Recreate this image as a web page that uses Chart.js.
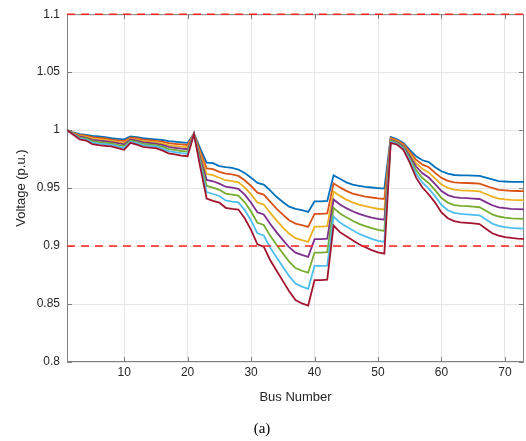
<!DOCTYPE html>
<html>
<head>
<meta charset="utf-8">
<script src="https://cdn.jsdelivr.net/npm/chart.js@4/dist/chart.umd.min.js"></script>
<style>
  html, body { margin: 0; padding: 0; background: #fff; }
  #wrap { width: 526px; height: 441px; }
</style>
</head>
<body>
<div id="wrap"><canvas id="voltCanvas" width="526" height="441"></canvas></div>
<script>
// bus voltage profiles, one line per loading case
var busNo = Array.from({ length: 73 }, function (_, i) { return i + 1; });
var xTicks = [10, 20, 30, 40, 50, 60, 70];
var limitLow = 0.9;
var limitHigh = 1.1;

var caseA = [1.000,0.998,0.9965,0.996,0.995,0.9945,0.994,0.993,0.9925,0.992,
  0.9945,0.994,0.993,0.9925,0.992,0.9915,0.9905,0.990,0.9895,0.989,
  0.997,0.984,0.972,0.9715,0.969,0.968,0.9675,0.966,0.963,0.959,
  0.9545,0.953,0.948,0.9425,0.938,0.934,0.932,0.931,0.9295,0.9385,
  0.9385,0.939,0.961,0.958,0.955,0.953,0.952,0.951,0.9505,0.950,
  0.9496,0.994,0.992,0.989,0.983,0.9775,0.974,0.9725,0.968,0.9645,
  0.9625,0.9613,0.961,0.961,0.9608,0.9605,0.959,0.9575,0.956,0.9557,
  0.9553,0.9553,0.9553];
var caseB = [1.000,0.9977,0.9958,0.9952,0.9939,0.9933,0.9928,0.9919,0.9912,0.9906,
  0.9936,0.9930,0.9918,0.9913,0.9908,0.9901,0.9888,0.9882,0.9877,0.9872,
  0.9969,0.9814,0.9670,0.9663,0.9640,0.9624,0.9618,0.9605,0.9568,0.9518,
  0.9460,0.9444,0.9384,0.9323,0.9271,0.9223,0.9194,0.9181,0.9166,0.9277,
  0.9277,0.9281,0.9541,0.9506,0.9476,0.9453,0.9439,0.9427,0.9419,0.9411,
  0.9406,0.9932,0.9913,0.9880,0.9812,0.9745,0.9702,0.9680,0.9631,0.9588,
  0.9563,0.9549,0.9545,0.9544,0.9542,0.9539,0.9520,0.9501,0.9485,0.9480,
  0.9476,0.9475,0.9474];
var caseC = [1.000,0.9974,0.9951,0.9944,0.9928,0.9921,0.9916,0.9908,0.9899,0.9891,
  0.9927,0.9919,0.9906,0.9901,0.9896,0.9886,0.9871,0.9865,0.9858,0.9853,
  0.9968,0.9789,0.9621,0.9611,0.9589,0.9568,0.9561,0.9550,0.9505,0.9446,
  0.9375,0.9359,0.9288,0.9222,0.9162,0.9106,0.9069,0.9052,0.9036,0.9168,
  0.9168,0.9172,0.9471,0.9433,0.9401,0.9376,0.9358,0.9344,0.9332,0.9322,
  0.9316,0.9924,0.9906,0.9871,0.9795,0.9716,0.9665,0.9635,0.9582,0.9531,
  0.9502,0.9486,0.9480,0.9479,0.9476,0.9472,0.9449,0.9426,0.9410,0.9403,
  0.9398,0.9397,0.9396];
var caseD = [1.000,0.9970,0.9943,0.9936,0.9916,0.9909,0.9904,0.9896,0.9887,0.9877,
  0.9919,0.9909,0.9894,0.9889,0.9884,0.9872,0.9855,0.9847,0.9840,0.9835,
  0.9968,0.9763,0.9571,0.9559,0.9539,0.9512,0.9505,0.9494,0.9443,0.9374,
  0.9291,0.9273,0.9192,0.9120,0.9054,0.8990,0.8943,0.8924,0.8907,0.9060,
  0.9060,0.9064,0.9402,0.9359,0.9327,0.9300,0.9278,0.9260,0.9246,0.9234,
  0.9227,0.9916,0.9898,0.9861,0.9777,0.9686,0.9627,0.9591,0.9534,0.9475,
  0.9440,0.9422,0.9416,0.9413,0.9410,0.9406,0.9379,0.9352,0.9334,0.9327,
  0.9321,0.9319,0.9317];
var caseE = [1.000,0.9967,0.9936,0.9928,0.9905,0.9896,0.9891,0.9885,0.9873,0.9862,
  0.9909,0.9898,0.9881,0.9876,0.9871,0.9857,0.9837,0.9829,0.9820,0.9815,
  0.9967,0.9736,0.9519,0.9504,0.9485,0.9453,0.9444,0.9436,0.9377,0.9298,
  0.9201,0.9182,0.9090,0.9012,0.8938,0.8866,0.8810,0.8787,0.8770,0.8944,
  0.8944,0.8948,0.9329,0.9281,0.9248,0.9218,0.9192,0.9172,0.9154,0.9139,
  0.9131,0.9908,0.9891,0.9851,0.9759,0.9655,0.9587,0.9543,0.9482,0.9414,
  0.9375,0.9354,0.9347,0.9344,0.9340,0.9335,0.9304,0.9273,0.9255,0.9245,
  0.9239,0.9236,0.9234];
var caseF = [1.000,0.9964,0.9928,0.9919,0.9893,0.9884,0.9879,0.9873,0.9859,0.9846,
  0.9900,0.9887,0.9869,0.9864,0.9859,0.9841,0.9819,0.9810,0.9801,0.9796,
  0.9966,0.9709,0.9466,0.9449,0.9432,0.9393,0.9384,0.9377,0.9310,0.9221,
  0.9110,0.9091,0.8988,0.8904,0.8822,0.8741,0.8676,0.8650,0.8632,0.8829,
  0.8829,0.8832,0.9255,0.9203,0.9169,0.9136,0.9106,0.9084,0.9062,0.9045,
  0.9036,0.9899,0.9883,0.9841,0.9740,0.9623,0.9547,0.9495,0.9430,0.9354,
  0.9309,0.9287,0.9278,0.9274,0.9269,0.9265,0.9229,0.9194,0.9175,0.9163,
  0.9157,0.9153,0.9150];
var caseG = [1.000,0.996,0.992,0.991,0.988,0.987,0.9865,0.986,0.9845,0.983,
  0.989,0.9875,0.9855,0.985,0.9845,0.9825,0.980,0.979,0.978,0.9775,
  0.9965,0.968,0.941,0.939,0.9375,0.933,0.932,0.9315,0.924,0.914,
  0.9015,0.8995,0.888,0.879,0.870,0.861,0.8535,0.8505,0.8487,0.8707,
  0.8707,0.871,0.9177,0.912,0.9085,0.905,0.9015,0.899,0.8965,0.8945,
  0.8935,0.989,0.9875,0.983,0.972,0.959,0.9505,0.9445,0.9375,0.929,
  0.924,0.9215,0.9205,0.920,0.9195,0.919,0.915,0.911,0.909,0.9077,
  0.907,0.9065,0.9062];

var cases = [caseA, caseB, caseC, caseD, caseE, caseF, caseG];
var colors = ['#0072BD', '#D95319', '#EDB120', '#7E2F8E', '#77AC30', '#4DBEEE', '#A2142F'];

function toXY(vals) {
    return vals.map(function (v, i) { return { x: busNo[i], y: v }; });
}

var datasets = [];
for (var i in cases) {
    datasets.push({
        data: toXY(cases[i]),
        borderColor: colors[i],
        borderWidth: 1.8,
        pointRadius: 0,
        tension: 0,
        fill: false,
        order: 6 - i
    });
}
// voltage limits
[limitLow, limitHigh].forEach(function (lim) {
    datasets.push({
        data: [{ x: busNo[0], y: lim }, { x: busNo[busNo.length - 1], y: lim }],
        borderColor: '#ff2020',
        borderWidth: 1.5,
        borderDash: [8, 6],
        pointRadius: 0,
        fill: false,
        clip: 4,
        order: -1
    });
});

// box around the axes plus inward ticks, like a matlab figure
var boxTicks = {
    id: 'boxTicks',
    beforeDatasetsDraw: function (chart) {
        var ctx = chart.ctx, a = chart.chartArea;
        var xs = chart.scales.x, ys = chart.scales.y;
        ctx.save();
        ctx.strokeStyle = '#808080';
        ctx.lineWidth = 1;
        ctx.beginPath();
        ctx.rect(a.left + 0.5, a.top + 0.5, a.right - a.left - 1, a.bottom - a.top - 1);
        ctx.stroke();
        ctx.beginPath();
        xs.ticks.forEach(function (t) {
            var px = Math.round(xs.getPixelForValue(t.value)) + 0.5;
            ctx.moveTo(px, a.bottom); ctx.lineTo(px, a.bottom - 5);
            ctx.moveTo(px, a.top); ctx.lineTo(px, a.top + 5);
        });
        ys.ticks.forEach(function (t) {
            var py = Math.round(ys.getPixelForValue(t.value)) + 0.5;
            ctx.moveTo(a.left, py); ctx.lineTo(a.left + 5, py);
            ctx.moveTo(a.right, py); ctx.lineTo(a.right - 5, py);
        });
        ctx.stroke();
        ctx.restore();
    }
};

var tickFont = { family: 'Liberation Sans, Arial, sans-serif', size: 12 };

var ctx = document.getElementById('voltCanvas');
var voltChart = new Chart(ctx, {
    type: 'line',
    data: { datasets: datasets },
    options: {
        responsive: false,
        animation: false,
        layout: { padding: { left: 0, right: 2, top: 10, bottom: 0 } },
        plugins: {
            legend: { display: false },
            tooltip: { enabled: false },
            title: {
                display: true,
                text: '(a)',
                position: 'bottom',
                color: '#000',
                font: { family: 'Liberation Serif, Times New Roman, serif', size: 15, weight: 'normal' },
                padding: { top: 15, bottom: 3 }
            }
        },
        scales: {
            x: {
                type: 'linear',
                min: 1,
                max: 73,
                afterBuildTicks: function (axis) {
                    axis.ticks = xTicks.map(function (v) { return { value: v }; });
                },
                afterFit: function (axis) { axis.height = 43; },
                grid: { color: '#e6e6e6', drawTicks: false },
                border: { display: false },
                ticks: { color: '#262626', font: tickFont, padding: 3, maxRotation: 0 },
                title: {
                    display: true,
                    text: 'Bus Number',
                    color: '#262626',
                    font: { family: 'Liberation Sans, Arial, sans-serif', size: 13 },
                    padding: { top: 0, bottom: 0 }
                }
            },
            y: {
                min: 0.8,
                max: 1.1,
                ticks: {
                    stepSize: 0.05,
                    color: '#262626',
                    font: tickFont,
                    padding: 7,
                    callback: function (v) { return String(Number(v.toFixed(2))); }
                },
                afterFit: function (axis) { axis.width = 67; },
                grid: { color: '#e6e6e6', drawTicks: false },
                border: { display: false },
                title: {
                    display: true,
                    text: 'Voltage (p.u.)',
                    color: '#262626',
                    font: { family: 'Liberation Sans, Arial, sans-serif', size: 13 },
                    padding: { top: 14, bottom: 0 }
                }
            }
        }
    },
    plugins: [boxTicks]
});
</script>
</body>
</html>
